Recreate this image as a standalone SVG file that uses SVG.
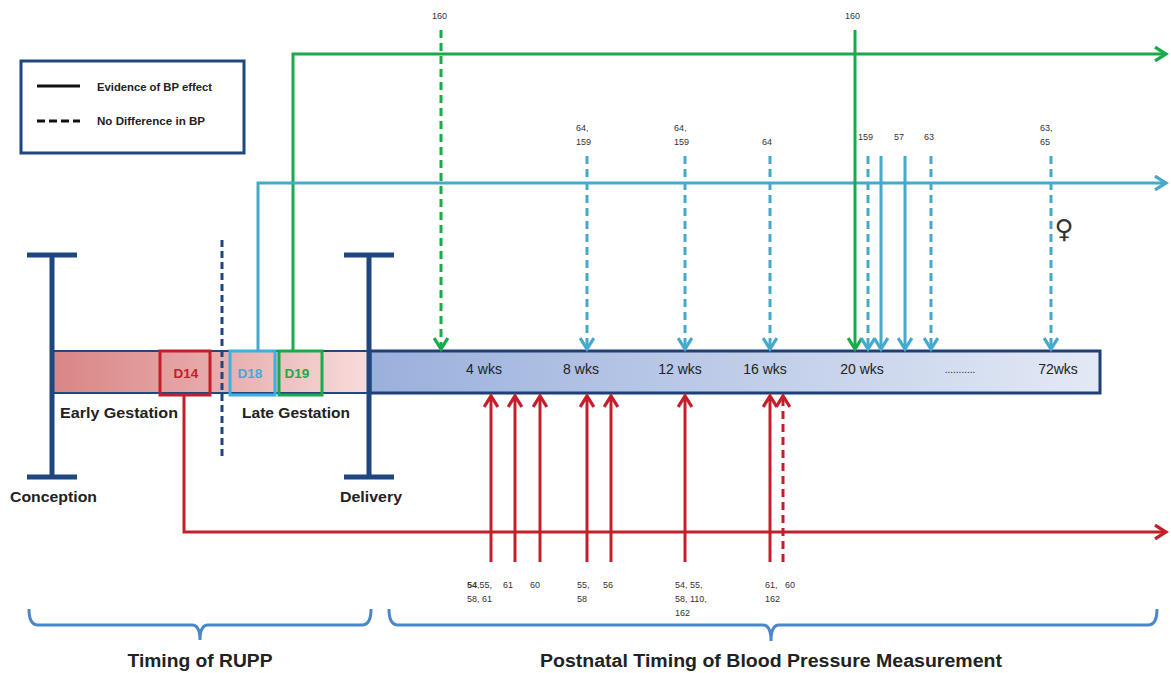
<svg xmlns="http://www.w3.org/2000/svg" width="1171" height="673" viewBox="0 0 1171 673">
<style>
text{font-family:"Liberation Sans",Arial,sans-serif;fill:#222}
.b{font-weight:bold}
.ref{font-size:9px;fill:#333}
.wk{font-size:14px;fill:#222}
.g{stroke:#1aaa4a;stroke-width:3;fill:none}
.c{stroke:#45a9cc;stroke-width:3;fill:none}
.r{stroke:#c41e2a;stroke-width:3;fill:none}
.d{stroke-dasharray:8 5}
.navy{stroke:#1f477f;fill:none}
.br{stroke:#4a86c8;stroke-width:3;fill:none}
</style>
<defs>
<linearGradient id="pink" x1="0" x2="1" y1="0" y2="0">
<stop offset="0" stop-color="#d98585"/><stop offset="0.5" stop-color="#e7aaaa"/><stop offset="1" stop-color="#f7dcdc"/>
</linearGradient>
<linearGradient id="blue" x1="0" x2="1" y1="0" y2="0">
<stop offset="0" stop-color="#9ab0dc"/><stop offset="1" stop-color="#e3e9f5"/>
</linearGradient>
<marker id="ag" viewBox="0 0 12 12" refX="10" refY="6" markerWidth="5.5" markerHeight="5.5" orient="auto" markerUnits="strokeWidth"><path d="M2,1 L10,6 L2,11" fill="none" stroke="#1aaa4a" stroke-width="2.4"/></marker>
<marker id="ac" viewBox="0 0 12 12" refX="10" refY="6" markerWidth="5.5" markerHeight="5.5" orient="auto" markerUnits="strokeWidth"><path d="M2,1 L10,6 L2,11" fill="none" stroke="#45a9cc" stroke-width="2.4"/></marker>
<marker id="ar" viewBox="0 0 12 12" refX="10" refY="6" markerWidth="5.5" markerHeight="5.5" orient="auto" markerUnits="strokeWidth"><path d="M2,1 L10,6 L2,11" fill="none" stroke="#c41e2a" stroke-width="2.4"/></marker>
</defs>

<g id="legend">
<rect x="21" y="61" width="223" height="92" fill="#fff" stroke="#1f477f" stroke-width="3"/>
<line x1="37" y1="86" x2="80" y2="86" stroke="#111" stroke-width="3"/>
<line x1="37" y1="121" x2="80" y2="121" stroke="#111" stroke-width="3" stroke-dasharray="8 4"/>
<text x="97" y="91" class="b" font-size="10.5" textLength="115" lengthAdjust="spacingAndGlyphs">Evidence of BP effect</text>
<text x="97" y="125" class="b" font-size="10.5" textLength="108" lengthAdjust="spacingAndGlyphs">No Difference in BP</text>
</g>

<g id="timeline">
<rect x="52" y="351" width="318" height="42" fill="url(#pink)" stroke="#1f477f" stroke-width="2"/>
<rect x="370" y="351" width="730" height="42" fill="url(#blue)" stroke="#1f3f77" stroke-width="3"/>
<text x="484" y="374" class="wk" text-anchor="middle">4 wks</text>
<text x="581" y="374" class="wk" text-anchor="middle">8 wks</text>
<text x="680" y="374" class="wk" text-anchor="middle">12 wks</text>
<text x="765" y="374" class="wk" text-anchor="middle">16 wks</text>
<text x="862" y="374" class="wk" text-anchor="middle">20 wks</text>
<text x="960" y="373" font-size="10" text-anchor="middle" fill="#333">...........</text>
<text x="1058" y="374" class="wk" text-anchor="middle">72wks</text>
</g>

<g id="conception">
<path class="navy" stroke-width="5" d="M52,255 V477 M27,255 H77 M27,477 H77"/>
<text x="10" y="502" class="b" font-size="15.5" textLength="87" lengthAdjust="spacingAndGlyphs">Conception</text>
</g>
<g id="delivery">
<path class="navy" stroke-width="5" d="M369,255 V477 M344,255 H394 M344,477 H394"/>
<text x="340" y="502" class="b" font-size="15.5" textLength="62" lengthAdjust="spacingAndGlyphs">Delivery</text>
</g>
<g id="divider">
<line x1="222" y1="240" x2="222" y2="460" stroke="#1f477f" stroke-width="3" stroke-dasharray="7 4"/>
</g>
<g id="gestation-labels">
<text x="60" y="418" class="b" font-size="15.5" textLength="118" lengthAdjust="spacingAndGlyphs">Early  Gestation</text>
<text x="242" y="418" class="b" font-size="15.5" textLength="108" lengthAdjust="spacingAndGlyphs">Late Gestation</text>
</g>

<g id="d14">
<rect x="160" y="351" width="50" height="44" fill="none" stroke="#c41e2a" stroke-width="3"/>
<text x="186" y="378" class="b" font-size="13.5" text-anchor="middle" style="fill:#c41e2a">D14</text>
</g>
<g id="d18">
<rect x="230" y="351" width="45" height="44" fill="none" stroke="#3ab0e3" stroke-width="3"/>
<text x="250" y="378" class="b" font-size="13.5" text-anchor="middle" style="fill:#45a9d6">D18</text>
</g>
<g id="d19">
<rect x="279" y="351" width="43" height="44" fill="none" stroke="#1aaa4a" stroke-width="3"/>
<text x="297" y="378" class="b" font-size="13.5" text-anchor="middle" style="fill:#1aaa4a">D19</text>
</g>

<g id="connectors">
<path class="g" d="M293,351 V54 H1166" marker-end="url(#ag)"/>
<path class="c" d="M258,351 V183 H1166" marker-end="url(#ac)"/>
<path class="r" d="M184,395 V532 H1166" marker-end="url(#ar)"/>

<line class="g d" x1="441" y1="30" x2="441" y2="349" marker-end="url(#ag)"/>
<line class="g" x1="855" y1="30" x2="855" y2="349" marker-end="url(#ag)"/>

<line class="c d" x1="587" y1="156" x2="587" y2="349" marker-end="url(#ac)"/>
<line class="c d" x1="685" y1="156" x2="685" y2="349" marker-end="url(#ac)"/>
<line class="c d" x1="770" y1="156" x2="770" y2="349" marker-end="url(#ac)"/>
<line class="c d" x1="868" y1="156" x2="868" y2="349" marker-end="url(#ac)"/>
<line class="c" x1="881" y1="156" x2="881" y2="349" marker-end="url(#ac)"/>
<line class="c" x1="905" y1="156" x2="905" y2="349" marker-end="url(#ac)"/>
<line class="c d" x1="931" y1="156" x2="931" y2="349" marker-end="url(#ac)"/>
<line class="c d" x1="1051" y1="156" x2="1051" y2="349" marker-end="url(#ac)"/>

<line class="r" x1="491" y1="562" x2="491" y2="396" marker-end="url(#ar)"/>
<line class="r" x1="515" y1="562" x2="515" y2="396" marker-end="url(#ar)"/>
<line class="r" x1="540" y1="562" x2="540" y2="396" marker-end="url(#ar)"/>
<line class="r" x1="587" y1="562" x2="587" y2="396" marker-end="url(#ar)"/>
<line class="r" x1="611" y1="562" x2="611" y2="396" marker-end="url(#ar)"/>
<line class="r" x1="685" y1="562" x2="685" y2="396" marker-end="url(#ar)"/>
<line class="r" x1="770" y1="562" x2="770" y2="396" marker-end="url(#ar)"/>
<line class="r d" x1="783" y1="562" x2="783" y2="396" marker-end="url(#ar)"/>
</g>

<g id="top-refs">
<text x="432" y="19" class="ref">160</text>
<text x="845" y="19" class="ref">160</text>
<text x="576" y="131" class="ref">64,</text><text x="576" y="145" class="ref">159</text>
<text x="674" y="131" class="ref">64,</text><text x="674" y="145" class="ref">159</text>
<text x="762" y="145" class="ref">64</text>
<text x="858" y="140" class="ref">159</text>
<text x="894" y="140" class="ref">57</text>
<text x="924" y="140" class="ref">63</text>
<text x="1040" y="131" class="ref">63,</text><text x="1040" y="145" class="ref">65</text>
<text x="1064" y="238" font-size="26" text-anchor="middle" style="font-family:'DejaVu Sans',sans-serif;fill:#333">♀</text>
</g>

<g id="bottom-refs">
<text x="467" y="588" class="ref"><tspan font-weight="bold">54</tspan>,55,</text>
<text x="467" y="602" class="ref">58, 61</text>
<text x="503" y="588" class="ref">61</text>
<text x="530" y="588" class="ref">60</text>
<text x="577" y="588" class="ref">55,</text><text x="577" y="602" class="ref">58</text>
<text x="603" y="588" class="ref">56</text>
<text x="675" y="588" class="ref">54, 55,</text>
<text x="675" y="602" class="ref">58, 110,</text>
<text x="675" y="616" class="ref">162</text>
<text x="765" y="588" class="ref">61,</text><text x="785" y="588" class="ref">60</text>
<text x="765" y="602" class="ref">162</text>
</g>

<g id="bracket-rupp">
<path class="br" d="M29,609 Q29,625 38,625 H192 Q200,625 200,640 Q200,625 208,625 H362 Q371,625 371,609"/>
<text x="200" y="667" class="b" font-size="18" text-anchor="middle" textLength="145" lengthAdjust="spacingAndGlyphs">Timing of RUPP</text>
</g>
<g id="bracket-postnatal">
<path class="br" d="M389,609 Q389,625 398,625 H763 Q771,625 771,641 Q771,625 779,625 H1148 Q1157,625 1157,609"/>
<text x="771" y="667" class="b" font-size="18" text-anchor="middle" textLength="462" lengthAdjust="spacingAndGlyphs">Postnatal Timing of Blood Pressure Measurement</text>
</g>
</svg>
